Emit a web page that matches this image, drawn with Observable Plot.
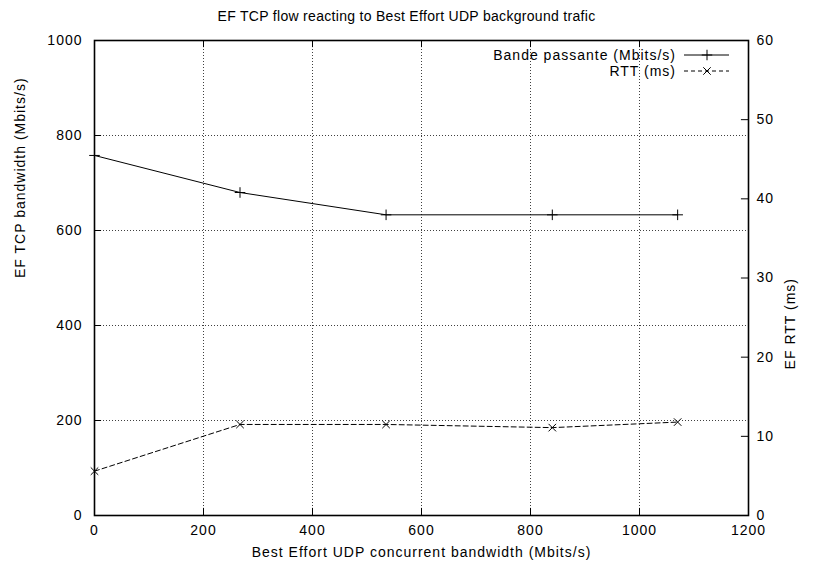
<!DOCTYPE html>
<html>
<head>
<meta charset="utf-8">
<script src="https://cdn.jsdelivr.net/npm/d3@7"></script>
<script src="https://cdn.jsdelivr.net/npm/@observablehq/plot@0.6"></script>
<style>
  body { margin: 0; background: #fff; font-family: "Liberation Sans", Arial, sans-serif; }
  #wrap { position: relative; width: 813px; height: 568px; }
  #title { position: absolute; left: 0; top: 8px; width: 813px; text-align: center; font-size: 14px; letter-spacing: 0.3px; line-height: 16px; color: #000; z-index: 2; }
</style>
</head>
<body>
<div id="wrap">
  <div id="title"></div>
  <div id="chart"></div>
</div>
<script>
const title = "EF TCP flow reacting to Best Effort UDP background trafic";
const xLabel = "Best Effort UDP concurrent bandwidth (Mbits/s)";
const yLabel = "EF TCP bandwidth (Mbits/s)";
const y2Label = "EF RTT (ms)";
const seriesNames = ["Bande passante (Mbits/s)", "RTT (ms)"];

const udpLoad = [0, 267, 535, 840, 1070];
const tcpBandwidth = [758, 680, 633, 633, 633];
const rttMs = [5.6, 11.5, 11.5, 11.1, 11.8];

const xTicks = [0, 200, 400, 600, 800, 1000, 1200];
const yTicks = [0, 200, 400, 600, 800, 1000];
const y2Ticks = [0, 10, 20, 30, 40, 50, 60];

document.getElementById("title").textContent = title;

const yMax = yTicks[yTicks.length - 1];
const y2Max = y2Ticks[y2Ticks.length - 1];
const xMax = xTicks[xTicks.length - 1];
const toLeft = v => v * yMax / y2Max;

const bw = udpLoad.map((x, i) => ({x, y: tcpBandwidth[i]}));
const rtt = udpLoad.map((x, i) => ({x, y: toLeft(rttMs[i])}));

const tickX = xMax * 13 / 1200;   // inward tick length (~7px)
const tickY = yMax * 15 / 1000;

const chart = Plot.plot({
  width: 813,
  height: 568,
  marginLeft: 94,
  marginRight: 65,
  marginTop: 40,
  marginBottom: 53,
  style: {fontFamily: '"Liberation Sans", Arial, sans-serif', fontSize: "14px", letterSpacing: "1px", background: "#fff", color: "#000"},
  x: {domain: [0, xMax]},
  y: {domain: [0, yMax]},
  marks: [
    Plot.gridX({ticks: xTicks.slice(1, -1), stroke: "#000", strokeOpacity: 0.75, strokeDasharray: "1,2"}),
    Plot.gridY({ticks: yTicks.slice(1, -1), stroke: "#000", strokeOpacity: 0.75, strokeDasharray: "1,2"}),
    Plot.ruleY(yTicks, {y: d => d, x1: 0, x2: tickX, stroke: "#000"}),
    Plot.ruleY(y2Ticks.map(toLeft), {y: d => d, x1: xMax - tickX, x2: xMax, stroke: "#000"}),
    Plot.ruleX(xTicks, {x: d => d, y1: 0, y2: tickY, stroke: "#000"}),
    Plot.ruleX(xTicks, {x: d => d, y1: yMax - tickY, y2: yMax, stroke: "#000"}),
    Plot.axisX({ticks: xTicks, anchor: "bottom", tickSize: 0, tickPadding: 10, label: null, tickFormat: d => String(d), fill: "#000"}),
    Plot.axisY({ticks: yTicks, anchor: "left", tickSize: 0, tickPadding: 12, label: null, tickFormat: d => String(d), fill: "#000"}),
    Plot.axisY({ticks: y2Ticks.map(toLeft), anchor: "right", tickSize: 0, tickPadding: 8, label: null, tickFormat: d => String(Math.round(d * y2Max / yMax)), fill: "#000"}),
    Plot.frame({stroke: "#000", strokeWidth: 1.6}),
    Plot.line(bw, {x: "x", y: "y", stroke: "#000", strokeWidth: 1}),
    Plot.dot(bw, {x: "x", y: "y", symbol: "plus", r: 3.5, stroke: "#000", strokeWidth: 1}),
    Plot.line(rtt, {x: "x", y: "y", stroke: "#000", strokeWidth: 1, strokeDasharray: "5,3"}),
    Plot.dot(rtt, {x: "x", y: "y", symbol: "times", r: 3.5, stroke: "#000", strokeWidth: 1}),
    Plot.text([xLabel], {text: d => d, frameAnchor: "bottom", dy: 37, lineAnchor: "middle", fill: "#000"}),
    Plot.text([yLabel], {text: d => d, frameAnchor: "left", dx: -74, rotate: -90, fill: "#000"}),
    Plot.text([y2Label], {text: d => d, frameAnchor: "right", dx: 42, rotate: -90, fill: "#000"})
  ]
});
document.getElementById("chart").appendChild(chart);

// key (legend) in the top-right corner of the plot area
const svg = d3.select(chart);
const key = svg.append("g").attr("fill", "#000").attr("font-size", 14);
const rows = [
  {name: seriesNames[0], dash: null, sym: d3.symbolPlus},
  {name: seriesNames[1], dash: "4,3", sym: d3.symbolTimes}
];
rows.forEach((r, i) => {
  const cy = 55 + i * 16;
  key.append("text").attr("x", 676).attr("y", cy).attr("dy", "0.35em").attr("text-anchor", "end").text(r.name);
  key.append("line").attr("x1", 684).attr("x2", 729).attr("y1", cy).attr("y2", cy)
    .attr("stroke", "#000").attr("stroke-width", 1).attr("stroke-dasharray", r.dash);
  key.append("path").attr("d", d3.symbol(r.sym, 38)()).attr("transform", `translate(707,${cy})`)
    .attr("fill", "none").attr("stroke", "#000").attr("stroke-width", 1);
});
</script>
</body>
</html>
